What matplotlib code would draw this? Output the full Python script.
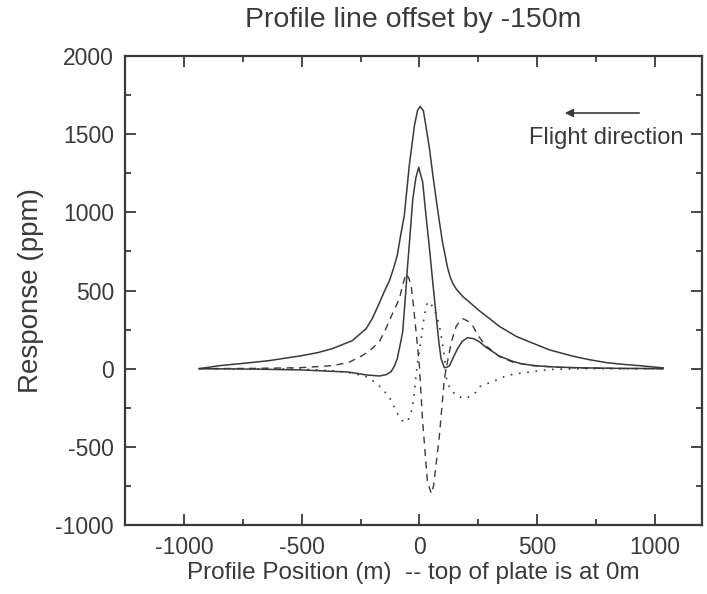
import matplotlib
matplotlib.use("Agg")
import matplotlib.pyplot as plt
from matplotlib.ticker import MultipleLocator

plt.rcParams["font.family"] = ["Liberation Sans", "DejaVu Sans"]
plt.rcParams["axes.unicode_minus"] = False

# values
outer_x = [-935, -850, -740, -640, -500, -430, -370, -285, -226, -200, -170, -150, -128,
           -110, -94, -80, -64, -43, -30, -21, -8, 3, 17, 30, 43, 57, 71, 85, 98, 110,
           119, 130, 142, 156, 185, 213, 255, 298, 340, 413, 511, 553, 651, 720, 796,
           870, 936, 1035]
outer_y = [0, 19, 35, 51, 83, 103, 128, 179, 256, 320, 420, 490, 560,
           640, 724, 850, 980, 1299, 1450, 1555, 1650, 1678, 1650, 1530, 1406, 1240, 1086,
           940, 810, 720, 650, 590, 545, 511, 460, 425, 370, 320, 270, 205, 145, 120, 80,
           58, 38, 27, 19, 5]

inner_x = [-935, -700, -500, -300, -226, -170, -140, -120, -105, -94, -82, -71, -60, -50,
           -40, -28, -15, -3, 14, 28, 43, 57, 71, 82, 92, 106, 118, 128, 145, 162, 182,
           204, 230, 255, 280, 311, 340, 400, 438, 500, 583, 700, 850, 1035]
inner_y = [0, -3, -8, -22, -40, -47, -38, -19, 20, 64, 150, 235, 450, 660,
           850, 1086, 1220, 1288, 1193, 980, 767, 550, 341, 180, 64, 6, 10, 19, 75, 128,
           175, 198, 192, 172, 140, 109, 80, 45, 30, 18, 10, 5, 2, 0]

dash_x = [-935, -700, -511, -370, -300, -243, -200, -170, -142, -115, -85, -70, -57, -45,
          -35, -25, -14, 0, 13, 25, 34, 51, 60, 68, 85, 106, 120, 136, 156, 170, 184,
          205, 226, 255, 280, 340, 400, 481, 600, 700, 850, 1035]
dash_y = [0, 2, 6, 19, 40, 83, 130, 172, 256, 350, 447, 540, 607, 580,
          532, 400, 235, 19, -320, -550, -722, -800, -750, -650, -428, -64, 50, 172,
          270, 300, 320, 305, 275, 200, 150, 77, 40, 19, 8, 4, 1, 0]

dot_x = [-935, -500, -350, -280, -226, -190, -157, -125, -98, -75, -60, -45, -30, -18,
         -8, 0, 10, 21, 34, 45, 55, 64, 85, 106, 115, 130, 157, 191, 220, 243, 255,
         311, 370, 413, 511, 553, 700, 1035]
dot_y = [0, -3, -15, -30, -51, -85, -128, -190, -275, -330, -345, -320, -256, -100,
         40, 109, 220, 341, 428, 420, 400, 380, 277, 85, -64, -130, -172, -192, -175,
         -147, -115, -83, -45, -32, -13, -5, 0, 0]

ink = "#3a3a3a"

fig = plt.figure(figsize=(7.07, 5.94), dpi=100)
ax = fig.add_axes([125 / 707, 69 / 594, 577 / 707, 469 / 594])

ax.plot(outer_x, outer_y, color=ink, lw=1.1)
ax.plot(inner_x, inner_y, color=ink, lw=1.1)
ax.plot(dash_x, dash_y, color=ink, lw=1.0, linestyle=(0, (5, 4)))
ax.plot(dot_x, dot_y, color=ink, lw=1.2, linestyle=(0, (1, 4)))

ax.set_xlim(-1250, 1200)
ax.set_ylim(-1000, 2000)
ax.xaxis.set_major_locator(MultipleLocator(500))
ax.xaxis.set_minor_locator(MultipleLocator(250))
ax.yaxis.set_major_locator(MultipleLocator(500))
ax.yaxis.set_minor_locator(MultipleLocator(250))
ax.tick_params(which="both", direction="in", top=True, right=True, colors=ink,
               labelsize=16.5, width=1.3)
ax.tick_params(which="major", length=8, pad=8)
ax.tick_params(which="minor", length=4)
for s in ax.spines.values():
    s.set_linewidth(1.6)
    s.set_color(ink)

ax.set_xlabel("Profile Position (m)  -- top of plate is at 0m", fontsize=17.5,
              color=ink, labelpad=2)
ax.set_ylabel("Response (ppm)", fontsize=20, color=ink, labelpad=8)
fig.text(413 / 707, 1 - 20 / 594, "Profile line offset by -150m", fontsize=20.5,
         color=ink, ha="center", va="center")

ax.annotate("", xy=(562, 594 - 113), xytext=(642, 594 - 113),
            xycoords="figure pixels", textcoords="figure pixels",
            arrowprops=dict(arrowstyle="-|>", color=ink, lw=1.2, mutation_scale=12))
fig.text(606 / 707, 1 - 138 / 594, "Flight direction", fontsize=17, color=ink,
         ha="center", va="center")

fig.savefig("out.png", dpi=100)
